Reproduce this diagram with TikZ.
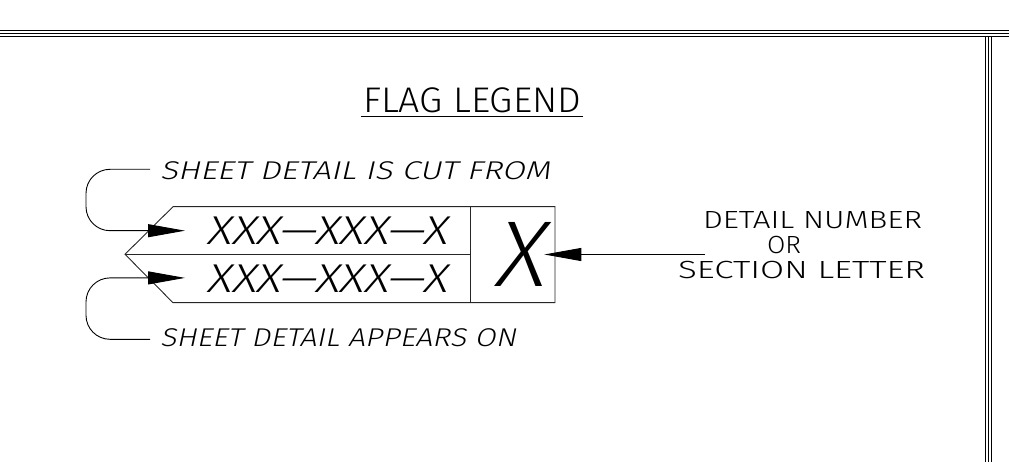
\documentclass[tikz,border=0pt]{standalone}
\usepackage{fontspec}
\usepackage{graphicx}
\usetikzlibrary{arrows.meta}
\newfontfamily\cadup{Fira Sans Light}
\newfontfamily\cadsl{Fira Sans Light}[FakeSlant=0.18]
\newcommand{\fitup}[3]{\resizebox{#1pt}{#2pt}{\cadup\smash{#3}\rule{0pt}{\fontcharht\font`H}}}
\newcommand{\fitsl}[3]{\resizebox{#1pt}{#2pt}{\cadsl\smash{#3}\rule{0pt}{\fontcharht\font`H}}}
\tikzset{
  lbl/.style={inner sep=0pt, outer sep=0pt, anchor=base west},
  border/.style={line width=0.9pt, black},
  flagline/.style={line width=0.9pt, black!85},
  leader/.style={line width=0.9pt, black, rounded corners=24pt,
    -{Triangle[length=37pt,width=13pt]}},
  pointer/.style={line width=0.9pt, black, -{Triangle[length=37pt,width=13pt]}}
}
\begin{document}
\begin{tikzpicture}[x=1pt,y=-1pt]
\useasboundingbox (0,0) rectangle (1009,462);
% sheet border
\draw[border] (0,30.5) -- (1009,30.5);
\draw[border] (0,33.5) -- (1009,33.5);
\draw[border, line width=0.6pt] (0,36.5) -- (1009,36.5);
\draw[border] (985,36.5) -- (985,462);
\draw[border, line width=0.6pt] (988,36.5) -- (988,462);
\draw[border] (991,36.5) -- (991,462);
% title
\node[lbl] (title) at (363,112.7) {\fitup{218}{24.4}{FLAG LEGEND}};
\draw[line width=0.9pt] (361,116.7) -- (583,116.7);
% flag
\draw[flagline] (125,254.3) -- (173,206.7) -- (555,206.7) -- (555,302.7) -- (173,302.7) -- cycle;
\draw[flagline] (125,254.3) -- (470,254.3);
\draw[flagline] (470,206.7) -- (470,302.7);
\node[lbl] (top) at (206.7,244.3) {\fitsl{240}{27.6}{XXX—XXX—X}};
\node[lbl] (bot) at (206.7,292.7) {\fitsl{240}{27.6}{XXX—XXX—X}};
\node[lbl] (num) at (493,286.7) {\fitsl{50}{64}{X}};
% leaders
\node[lbl] (cut) at (160,179.3) {\fitsl{390}{17.6}{SHEET DETAIL IS CUT FROM}};
\node[lbl] (app) at (160,346.9) {\fitsl{356}{17.6}{SHEET DETAIL APPEARS ON}};
\coordinate (cutend) at (150,169.3);
\coordinate (append) at (150,339.3);
\coordinate (toptip) at (185,230.7);
\coordinate (bottip) at (185,277.9);
\draw[leader] (cutend) -- (86,169.3) -- (86,230.7) -- (toptip);
\draw[leader] (append) -- (86,339.3) -- (86,277.9) -- (bottip);
% right label
\node[lbl] (dn) at (703,228.5) {\fitup{219}{17}{DETAIL NUMBER}};
\node[lbl] (or) at (767,254) {\fitup{34}{17}{OR}};
\node[lbl] (sl) at (678,279) {\fitup{247}{17}{SECTION LETTER}};
\coordinate (ptrstart) at (705,254.5);
\coordinate (ptrtip) at (544.3,254.5);
\draw[pointer] (ptrstart) -- (ptrtip);
\end{tikzpicture}
\end{document}
